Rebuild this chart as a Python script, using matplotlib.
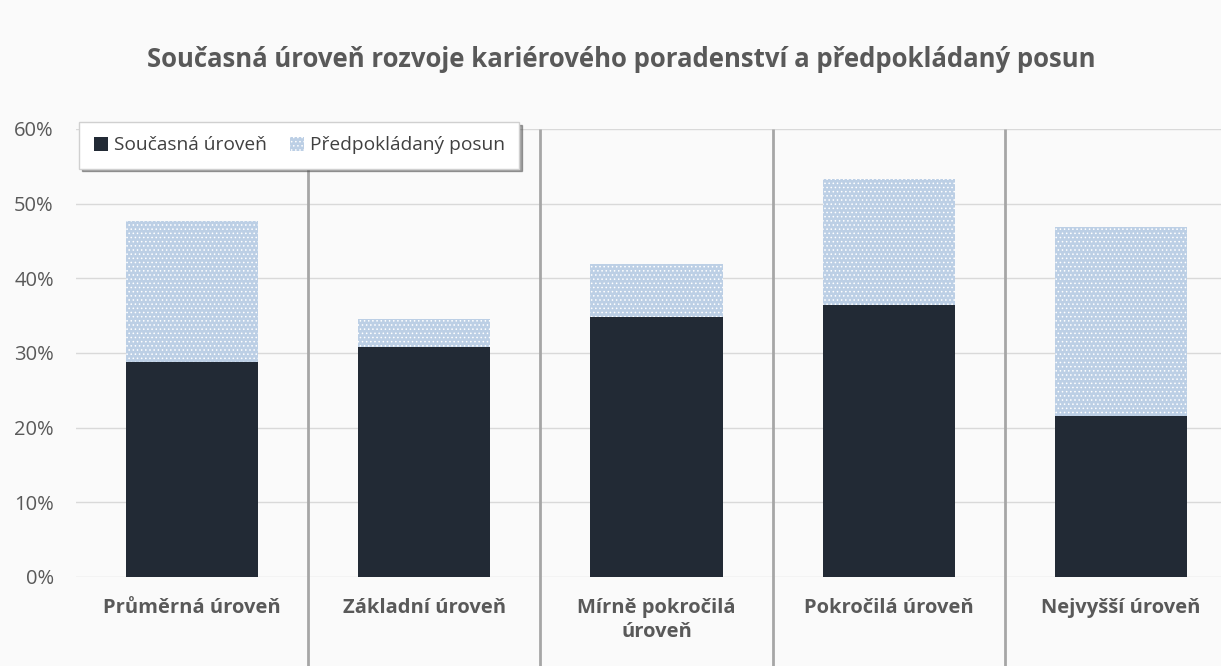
import matplotlib.pyplot as plt
import numpy as np

# Data
categories = ["Průměrná úroveň", "Základní úroveň", "Mírně pokročilá\núroveň",
              "Pokročilá úroveň", "Nejvyšší úroveň"]
current_level = [28.8, 30.8, 34.8, 36.4, 21.5]
expected_shift = [18.9, 3.8, 7.1, 16.9, 25.4]
yticks = [0, 10, 20, 30, 40, 50, 60]

dark = '#222a35'
light = '#bccfe5'
text_gray = '#595959'

plt.rcParams['font.family'] = ['Open Sans', 'DejaVu Sans']
plt.rcParams['hatch.linewidth'] = 0.6

fig = plt.figure(figsize=(12.21, 6.66), dpi=100, facecolor='#fafafa')
ax = fig.add_axes([76 / 1221, 89 / 666, 1161 / 1221, 448 / 666])
ax.set_facecolor('#fafafa')

x = np.arange(len(categories))
b1 = ax.bar(x, current_level, width=0.57, color=dark, label='Současná úroveň', zorder=3)
b2 = ax.bar(x, expected_shift, width=0.57, bottom=current_level, color=light,
            edgecolor='white', linewidth=0, hatch='....', label='Předpokládaný posun', zorder=3)

ax.set_xlim(-0.5, len(categories) - 0.5)
ax.set_ylim(0, 60)
ax.set_yticks(yticks)
ax.set_yticklabels([f'{t}%' for t in yticks], color=text_gray, fontsize=14.5)
ax.set_xticks(x)
ax.set_xticklabels(categories, color=text_gray, fontsize=14.5, fontweight='bold',
                   linespacing=1.25)
ax.tick_params(axis='y', length=0, pad=16)
ax.tick_params(axis='x', length=0, pad=15)
ax.grid(axis='y', color='#d9d9d9', linewidth=1, zorder=0)
for s in ax.spines.values():
    s.set_visible(False)

# category separators running down through the labels
ax.vlines(x[:-1] + 0.5, -0.2, 1.0, transform=ax.get_xaxis_transform(),
          color='#a6a6a6', linewidth=2, clip_on=False, zorder=2)

leg = ax.legend(handles=[b1, b2], loc='upper left', bbox_to_anchor=(0.003, 1.016),
                ncol=2, fontsize=13.8, frameon=True, fancybox=False, shadow=True,
                handlelength=0.75, handleheight=0.75, handletextpad=0.3,
                columnspacing=1.2, borderpad=0.75, borderaxespad=0)
leg.get_frame().set_facecolor('white')
leg.get_frame().set_edgecolor('#d0d0d0')
for t in leg.get_texts():
    t.set_color('#404040')

fig.text(0.509, 0.91, 'Současná úroveň rozvoje kariérového poradenství a předpokládaný posun',
         ha='center', va='center', fontsize=18.5, fontweight='bold', color=text_gray)

fig.savefig('out.png', dpi=100, facecolor=fig.get_facecolor())
